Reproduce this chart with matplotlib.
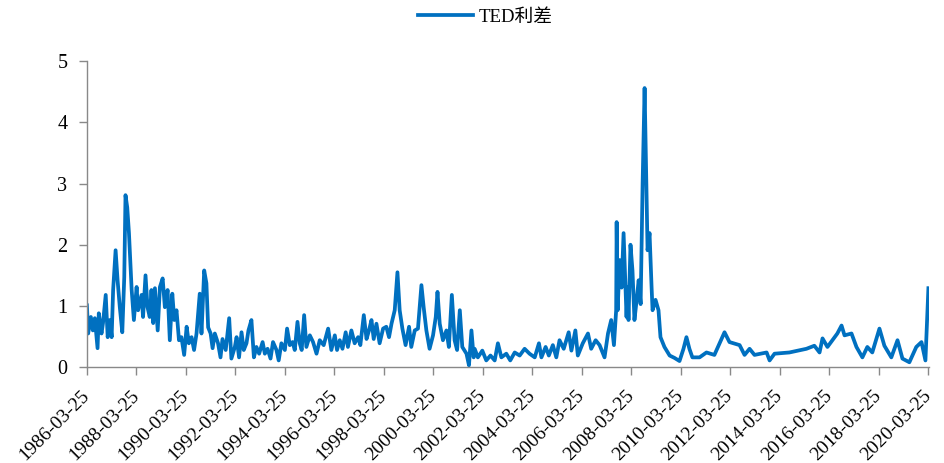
import pandas as pd
import matplotlib.pyplot as plt
import matplotlib.dates as mdates

plt.rcParams['font.family'] = ['Liberation Serif', 'Noto Sans CJK SC']

# 读图得到的数据（小数年份, TED利差）
years = [1986.23, 1986.28, 1986.39, 1986.47, 1986.55, 1986.66, 1986.71, 1986.82, 1986.88, 1986.99,
         1987.07, 1987.16, 1987.23, 1987.29, 1987.39, 1987.47, 1987.56, 1987.66, 1987.74, 1987.79,
         1987.86, 1987.93, 1987.98, 1988.04, 1988.13, 1988.24, 1988.30, 1988.44, 1988.50, 1988.60,
         1988.68, 1988.77, 1988.84, 1988.91, 1988.98, 1989.09, 1989.18, 1989.29, 1989.38, 1989.49,
         1989.58, 1989.68, 1989.76, 1989.85, 1989.95, 1990.05, 1990.16, 1990.26, 1990.35, 1990.46,
         1990.56, 1990.66, 1990.79, 1990.86, 1990.97, 1991.06, 1991.13, 1991.23, 1991.31, 1991.40,
         1991.53, 1991.63, 1991.71, 1991.84, 1991.98, 1992.07, 1992.21, 1992.28, 1992.38, 1992.48,
         1992.57, 1992.68, 1992.76, 1992.88, 1992.98, 1993.08, 1993.19, 1993.33, 1993.42, 1993.53,
         1993.65, 1993.75, 1993.89, 1993.98, 1994.09, 1994.23, 1994.32, 1994.43, 1994.54, 1994.63,
         1994.74, 1994.83, 1994.91, 1995.01, 1995.10, 1995.24, 1995.37, 1995.51, 1995.64, 1995.80,
         1995.98, 1996.11, 1996.25, 1996.34, 1996.45, 1996.56, 1996.69, 1996.78, 1996.92, 1997.05,
         1997.19, 1997.28, 1997.42, 1997.53, 1997.63, 1997.73, 1997.82, 1997.93, 1998.06, 1998.20,
         1998.33, 1998.44, 1998.54, 1998.67, 1998.78, 1998.87, 1998.98, 1999.11, 1999.25, 1999.34,
         1999.48, 1999.61, 1999.75, 1999.84, 1999.95, 2000.08, 2000.22, 2000.33, 2000.40, 2000.49,
         2000.62, 2000.76, 2000.86, 2000.98, 2001.09, 2001.19, 2001.30, 2001.40, 2001.57, 2001.67,
         2001.77, 2001.86, 2001.90, 2002.03, 2002.21, 2002.37, 2002.54, 2002.71, 2002.84, 2002.98,
         2003.18, 2003.34, 2003.52, 2003.72, 2003.92, 2004.12, 2004.33, 2004.50, 2004.60, 2004.77,
         2004.90, 2005.06, 2005.20, 2005.33, 2005.50, 2005.70, 2005.81, 2005.97, 2006.07, 2006.27,
         2006.48, 2006.61, 2006.79, 2006.95, 2007.15, 2007.29, 2007.42, 2007.53, 2007.62, 2007.64,
         2007.68, 2007.76, 2007.84, 2007.92, 2008.04, 2008.08, 2008.12, 2008.20, 2008.28, 2008.36,
         2008.45, 2008.53, 2008.61, 2008.69, 2008.77, 2008.85, 2008.89, 2008.97, 2009.05, 2009.09,
         2009.21, 2009.33, 2009.41, 2009.57, 2009.78, 2009.98, 2010.18, 2010.34, 2010.46, 2010.58,
         2010.70, 2010.99, 2011.27, 2011.59, 2011.80, 2012.00, 2012.20, 2012.61, 2012.81, 2013.01,
         2013.21, 2013.70, 2013.82, 2014.02, 2014.62, 2015.31, 2015.63, 2015.84, 2015.96, 2016.16,
         2016.36, 2016.56, 2016.73, 2016.85, 2017.13, 2017.33, 2017.57, 2017.77, 2017.97, 2018.26,
         2018.46, 2018.74, 2018.99, 2019.19, 2019.47, 2019.75, 2019.96, 2020.12, 2020.24]
ted = [1.01, 0.55, 0.82, 0.60, 0.80, 0.31, 0.88, 0.55, 0.72, 1.18,
       0.49, 0.77, 0.49, 1.26, 1.91, 1.42, 0.98, 0.57, 1.47, 2.81,
       2.61, 2.19, 1.77, 1.26, 0.77, 1.31, 0.93, 1.18, 0.82, 1.50,
       0.98, 0.82, 1.26, 0.72, 1.29, 0.60, 1.31, 1.45, 0.98, 1.26,
       0.44, 1.20, 0.77, 0.93, 0.44, 0.49, 0.20, 0.66, 0.39, 0.49,
       0.28, 0.55, 1.20, 0.55, 1.58, 1.37, 0.65, 0.55, 0.31, 0.55,
       0.39, 0.16, 0.46, 0.28, 0.80, 0.14, 0.33, 0.49, 0.16, 0.57,
       0.28, 0.39, 0.60, 0.77, 0.16, 0.33, 0.22, 0.41, 0.22, 0.30,
       0.14, 0.41, 0.28, 0.11, 0.39, 0.28, 0.63, 0.36, 0.41, 0.28,
       0.74, 0.39, 0.28, 0.85, 0.33, 0.52, 0.41, 0.22, 0.44, 0.36,
       0.63, 0.28, 0.52, 0.28, 0.44, 0.30, 0.57, 0.33, 0.60, 0.39,
       0.49, 0.36, 0.85, 0.46, 0.60, 0.77, 0.46, 0.71, 0.39, 0.63,
       0.66, 0.49, 0.71, 0.93, 1.55, 0.93, 0.63, 0.36, 0.66, 0.33,
       0.60, 0.63, 1.34, 0.98, 0.60, 0.30, 0.52, 0.82, 1.23, 0.71,
       0.44, 0.60, 0.33, 1.18, 0.44, 0.28, 0.93, 0.33, 0.22, 0.03,
       0.60, 0.16, 0.30, 0.16, 0.27, 0.11, 0.19, 0.11, 0.39, 0.16,
       0.22, 0.11, 0.24, 0.19, 0.30, 0.22, 0.16, 0.39, 0.16, 0.33,
       0.19, 0.36, 0.16, 0.44, 0.30, 0.57, 0.27, 0.60, 0.19, 0.39,
       0.55, 0.30, 0.44, 0.36, 0.16, 0.55, 0.77, 0.36, 0.93, 2.37,
       0.93, 1.75, 1.30, 2.19, 0.82, 1.31, 0.77, 2.00, 1.58, 0.77,
       1.10, 1.42, 1.03, 3.00, 4.56, 2.78, 1.91, 2.19, 1.31, 0.93,
       1.10, 0.93, 0.49, 0.33, 0.19, 0.15, 0.10, 0.30, 0.49, 0.30,
       0.16, 0.16, 0.24, 0.20, 0.39, 0.57, 0.41, 0.36, 0.20, 0.30,
       0.20, 0.24, 0.11, 0.22, 0.24, 0.30, 0.35, 0.24, 0.47, 0.33,
       0.44, 0.55, 0.68, 0.52, 0.55, 0.33, 0.16, 0.33, 0.24, 0.63,
       0.35, 0.16, 0.44, 0.14, 0.08, 0.33, 0.41, 0.11, 1.29]

tick_labels = ['1986-03-25', '1988-03-25', '1990-03-25', '1992-03-25', '1994-03-25', '1996-03-25',
               '1998-03-25', '2000-03-25', '2002-03-25', '2004-03-25', '2006-03-25', '2008-03-25',
               '2010-03-25', '2012-03-25', '2014-03-25', '2016-03-25', '2018-03-25', '2020-03-25']


def to_date(y):
    return pd.Timestamp(int(y), 1, 1) + pd.Timedelta(days=(y % 1) * 365.25)


dates = [to_date(y) for y in years]
ticks = pd.to_datetime(tick_labels)

fig = plt.figure(figsize=(9.44, 4.63), dpi=100)
ax = fig.add_axes([0.092, 0.207, 0.892, 0.661])

ax.plot(dates, ted, color='#0070C0', linewidth=2.7, solid_joinstyle='round', label='TED利差')

ax.set_ylim(0, 5)
ax.set_yticks([0, 1, 2, 3, 4, 5])
ax.set_xlim(ticks[0], to_date(2020.26))
ax.set_xticks(ticks)
ax.xaxis.set_major_formatter(mdates.DateFormatter('%Y-%m-%d'))

for s in ['top', 'right']:
    ax.spines[s].set_visible(False)
for s in ['left', 'bottom']:
    ax.spines[s].set_color('#898989')
    ax.spines[s].set_linewidth(1.0)

ax.tick_params(axis='both', colors='#898989', labelcolor='black', length=6, width=1.0)
ax.tick_params(axis='y', labelsize=14.5, pad=8)
ax.tick_params(axis='x', labelsize=14, pad=12.5)
plt.setp(ax.get_xticklabels(), rotation=45, ha='right', va='center', rotation_mode='anchor')

ax.legend(loc='center', bbox_to_anchor=(0.514, 0.963), bbox_transform=fig.transFigure,
          frameon=False, fontsize=13.5, handlelength=2.9, handletextpad=0.3)

fig.savefig('out.png', dpi=100)
